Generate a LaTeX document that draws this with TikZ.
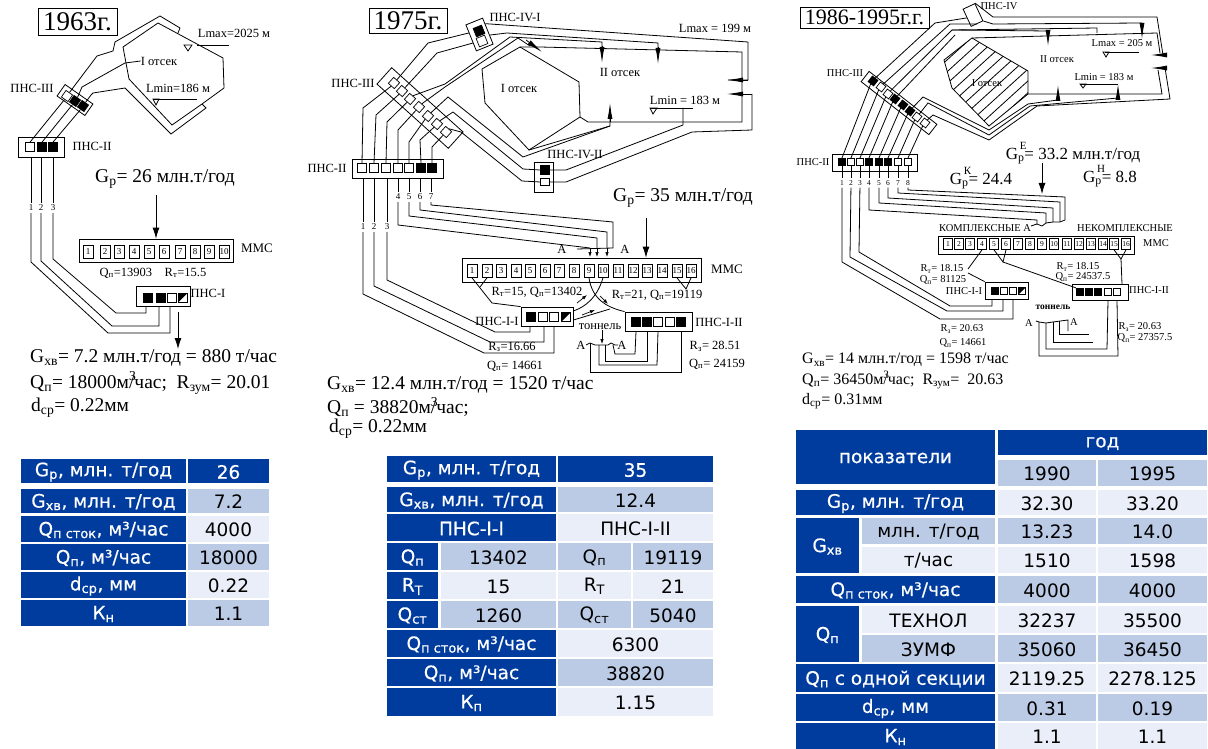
\documentclass[tikz,border=0pt]{standalone}
\usepackage{fontspec}
\setmainfont{Liberation Serif}
\newfontfamily\tabfam{DejaVu Sans}
\newfontfamily\tabbold[FakeBold=0.5]{DejaVu Sans}
\usetikzlibrary{
    arrows.meta,
    calc
}
\newcommand{\fs}[1]{\fontsize{#1}{#1}\selectfont}
\newcommand{\tabcell}[5]{\path[#4] (#2) rectangle (#3) node[midway, tabtext, #4] (#1) {#5};}
\definecolor{tabblue}{HTML}{003C9E}
\definecolor{tabmid}{HTML}{BCCBE5}
\definecolor{tablight}{HTML}{E9EEF8}
\tikzset{
    pipe/.style={
        line width=0.8pt,
        line join=miter
    },
    bigarrow/.style={
        -{Latex[length=11pt,width=7pt]},
        line width=0.8pt
    },
    smallarrow/.style={
        -{Latex[length=5pt,width=3.5pt]},
        line width=0.7pt
    },
    vane/.style={
        -{Latex[length=16pt,width=5pt]},
        line width=0.8pt
    },
    pumpcell/.style={
        draw=black,
        line width=0.7pt,
        inner sep=0pt,
        minimum size=9pt
    },
    pumpon/.style={
        pumpcell,
        fill=black
    },
    pumpoff/.style={
        pumpcell
    },
    pumphalf/.style={
        pumpcell,
        path picture={\fill (path picture bounding box.north west) -- (path picture bounding box.north east) -- (path picture bounding box.south west) -- cycle;}
    },
    stationbox/.style={
        rectangle,
        draw=black,
        line width=0.8pt,
        inner sep=0pt
    },
    numcell/.style={
        rectangle,
        draw=black,
        line width=0.7pt,
        inner sep=0pt,
        minimum width=10pt,
        minimum height=13pt,
        font=\fs{9}
    },
    trackno/.style={
        inner sep=2pt,
        font=\fs{9}
    },
    lbl/.style={
        inner sep=0pt,
        font=\fs{12.5}
    },
    lblsmall/.style={
        inner sep=0pt,
        font=\fs{10.5}
    },
    bigtext/.style={
        inner sep=0pt,
        anchor=west,
        font=\fs{19.5}
    },
    yearbox/.style={
        rectangle,
        draw=black,
        line width=0.8pt,
        inner sep=0pt,
        font=\fs{27}
    },
    tabtext/.style={
        inner sep=0pt,
        yshift=-1pt,
        align=center,
        font=\tabfam\fs{18.5}
    },
    cellblue/.style={
        fill=tabblue,
        text=white,
        font=\tabbold\fs{18.5}
    },
    cellmid/.style={
        fill=tabmid,
        text=black
    },
    celllight/.style={
        fill=tablight,
        text=black
    }
}
\begin{document}
\begin{tikzpicture}[x=1pt,y=-1pt]
\useasboundingbox (0,0) rectangle (1208,749);

% 1963
\node[yearbox, minimum width=79pt, minimum height=27pt] (yearA) at (77.5,22) {1963г.};
\node[stationbox, minimum width=34pt, minimum height=14pt, rotate=-35] (iiiA) at (75,100) {};
\foreach \n/\x/\y/\st in {1/67/96/pumpoff,2/75/101/pumpon,3/83/106/pumpon}
  \node[\st, minimum size=8pt, rotate=-35] (iiiA\n) at (\x,\y) {};
\node[stationbox, minimum width=46pt, minimum height=20pt] (iiA) at (41,147) {};
\foreach \n/\x/\st in {1/30/pumpoff,2/42/pumpon,3/53/pumpon}
  \node[\st] (iiA\n) at (\x,147) {};
\node[stationbox, minimum width=154pt, minimum height=23pt] (mmsA) at (156,250.5) {};
\foreach \n/\x in {1/88,2/105,3/119,4/134,5/149,6/164,7/180,8/195,9/209,10/224}
  \node[numcell] (mmsA\n) at (\x,252) {\n};
\node[stationbox, minimum width=54pt, minimum height=20pt] (iA) at (163,296) {};
\foreach \n/\x/\st in {1/148/pumpon,2/161/pumpon,3/172/pumpoff,4/183/pumphalf}
  \node[\st] (iA\n) at (\x,297.5) {};
\foreach \n/\x in {1/31,2/41,3/53}
  \node[trackno] (noA\n) at (\x,208) {\n};

\draw[pipe] (202,104) -- (224,88) -- (223,58) -- (158,23) -- (123,47) -- (129,79) -- (172,125) -- (202,104);
\draw[pipe] (iiiA1.north) -- (97,56) -- (113,51) -- (115,42) -- (160,16) -- (180,28) -- (178,33);
\draw[pipe] (iiiA2.north) -- (82,87) -- (125,63);
\draw[pipe] (iiiA3.north) -- (91,95) -- (93,93) -- (125,88) -- (171,134) -- (206,108) -- (202,104);
\draw[pipe] (iiA1.north) -- (iiiA1.south);
\draw[pipe] (iiA2.north) -- (iiiA2.south);
\draw[pipe] (iiA3.north) -- (iiiA3.south);
\draw[pipe] (31,157) -- (noA1);
\draw[pipe] (41,157) -- (noA2);
\draw[pipe] (53,157) -- (noA3);
\draw[pipe] (noA1) -- (31,262) -- (108,333) -- (170,333) -- (170,306);
\draw[pipe] (noA2) -- (41,261) -- (112,326) -- (159,326) -- (159,306);
\draw[pipe] (noA3) -- (53,259) -- (116,313) -- (146,313) -- (146,306);

\node[lbl] (lmaxA) at (234,33) {Lmax=2025 м};
\node[lbl] (lminA) at (178,88) {Lmin=186 м};
\node[lbl] (secA) at (159,61) {I отсек};
\node[lbl] (nameiiiA) at (32,88) {ПНС-III};
\node[lbl] (nameiiA) at (92,146) {ПНС-II};
\node[lbl] (nameiA) at (208,293) {ПНС-I};
\node[lbl, font=\fs{13}] (namemmsA) at (257,248) {ММС};
\node[lbl] (flowA) at (153,273) {Q\textsubscript{п}=13903\quad R\textsubscript{т}=15.5};
\draw[pipe] (197,45) -- (229,45);
\draw[pipe] (184,45) -- (192,45) -- (188,51) -- cycle;
\draw[pipe] (153,99) -- (197,99);
\draw[pipe] (153,99) -- (159,99) -- (156,105) -- cycle;
\draw[pipe] (125,63) -- (secA.west);
\node[inner sep=0pt, font=\fs{19.5}] (gpA) at (165,179) {G\textsubscript{р}= 26 млн.т/год};
\coordinate (gpAfrom) at (156,195);
\draw[bigarrow] (gpAfrom) -- (gpAfrom |- mmsA.north);
\coordinate (outAfrom) at (178,312);
\coordinate (outAto) at (178,349);
\draw[bigarrow] (outAfrom) -- (outAto);
\node[bigtext] (gxvA) at (30,358) {G\textsubscript{хв}= 7.2 млн.т/год = 880 т/час};
\node[bigtext] (qA) at (30,383) {Q\textsubscript{п}= 18000м\rlap{\textsuperscript{3}}/час;\ \ R\textsubscript{зум}= 20.01};
\node[bigtext] (dA) at (31,408) {d\textsubscript{ср}= 0.22мм};

% 1975
\node[yearbox, minimum width=78pt, minimum height=25pt] (yearB) at (408,20.5) {1975г.};
\node[stationbox, minimum width=18pt, minimum height=28pt, rotate=22] (ivaB) at (479.5,34.5) {};
\node[pumpon, rotate=22] (ivaB1) at (479,31) {};
\node[pumpoff, rotate=22] (ivaB2) at (482,41) {};
\node[stationbox, minimum width=96pt, minimum height=22pt, rotate=-42] (iiiB) at (420,108) {};
\foreach \n/\x/\y in {1/394/83,2/402/91,3/410/99,4/419/107,5/428/116,6/437/124,7/446/132}
  \node[pumpoff, minimum size=8pt, rotate=-42] (iiiB\n) at (\x,\y) {};
\node[stationbox, minimum width=91pt, minimum height=19pt] (iiB) at (397.5,168.5) {};
\foreach \n/\x/\st in {1/362/pumpoff,2/374/pumpoff,3/386/pumpoff,4/398/pumpoff,5/409/pumpoff,6/421/pumpon,7/432/pumpon}
  \node[\st] (iiB\n) at (\x,168) {};
\node[stationbox, minimum width=19pt, minimum height=30pt] (ivbB) at (543.5,177) {};
\node[pumpon] (ivbB1) at (545,170) {};
\node[pumpoff, minimum width=9pt, minimum height=7pt] (ivbB2) at (545,182) {};
\node[stationbox, minimum width=239pt, minimum height=24pt] (mmsB) at (581.5,270) {};
\foreach \n/\x in {1/472,2/487,3/501,4/516,5/530,6/545,7/559,8/574,9/589,10/603,11/618,12/633,13/647,14/662,15/677,16/691}
  \node[numcell] (mmsB\n) at (\x,271) {\n};
\node[stationbox, minimum width=52pt, minimum height=19pt] (iaB) at (547,316.5) {};
\foreach \n/\x/\st in {1/531/pumpon,2/543/pumpoff,3/554/pumpoff,4/566/pumphalf}
  \node[\st] (iaB\n) at (\x,317) {};
\node[stationbox, minimum width=67pt, minimum height=19pt] (ibB) at (658.5,321.5) {};
\foreach \n/\x/\st in {1/636/pumpon,2/647/pumpon,3/658/pumpoff,4/670/pumpoff,5/681/pumpon}
  \node[\st] (ibB\n) at (\x,322) {};
\foreach \n/\x in {1/363,2/374,3/387}
  \node[trackno] (noB\n) at (\x,227) {\n};
\foreach \n/\x in {4/398,5/409,6/420,7/431}
  \node[trackno] (noB\n) at (\x,197) {\n};

\draw[pipe] (520,47) -- (579,82) -- (580,117) -- (529,150) -- (485,103) -- (482,69) -- cycle;
\draw[pipe] (iiB1.north) -- (363,108) -- (iiiB1.south);
\draw[pipe] (iiB2.north) -- (376,115) -- (iiiB2.south);
\draw[pipe] (iiB3.north) -- (387,122) -- (iiiB3.south);
\draw[pipe] (iiB4.north) -- (398,130) -- (iiiB4.south);
\draw[pipe] (iiB5.north) -- (409,142) -- (iiiB5.south);
\draw[pipe] (iiB6.north) -- (420,140) -- (iiiB6.south);
\draw[pipe] (iiB7.north) -- (432,147) -- (iiiB7.south);
\draw[pipe] (iiiB1.north) -- (428,43) -- (ivaB.150);
\draw[pipe] (iiiB2.north) -- (437,53) -- (ivaB.210);
\draw[pipe] (ivaB.40) -- (748,42) -- (748,80) -- (728,80);
\draw[pipe] (ivaB.-25) -- (507,33) -- (658,43) -- (658,49);
\draw[vane] (658,47) -- (658,64);
\draw[pipe] (iiiB3.north) -- (445,84) -- (510,37) -- (602,42) -- (602,47);
\draw[vane] (602,46) -- (602,63);
\draw[pipe] (iiiB4.north) -- (445,87) -- (518,38) -- (530,46);
\draw[vane] (526,40) -- (542,52);
\draw[pipe] (520,47) -- (540,47) -- (742,52) -- (742,94);
\draw[vane] (748,80) -- (727,80);
\draw[pipe] (580,117) -- (588,122) -- (742,122) -- (742,94);
\draw[vane] (752,94) -- (727,94);
\draw[pipe] (iiiB5.north) -- (448,97) -- (523,157) -- (610,126) -- (610,115);
\draw[pipe] (529,150) -- (610,126);
\draw[vane] (610,122) -- (610,103);
\draw[pipe] (iiiB6.north) -- (453,112) -- (523,169) -- (ivbB1.west);
\draw[pipe] (iiiB7.north) -- (461,132) -- (522,181) -- (ivbB2.west);
\draw[pipe] (ivbB1.east) -- (566,170) -- (683,125) -- (683,108);
\draw[pipe] (ivbB2.east) -- (566,182) -- (692,132) -- (752,130) -- (752,94);

\draw[pipe] (363,178) -- (noB1);
\draw[pipe] (374,178) -- (noB2);
\draw[pipe] (387,178) -- (noB3);
\draw[pipe] (398,178) -- (noB4);
\draw[pipe] (409,178) -- (noB5);
\draw[pipe] (420,178) -- (noB6);
\draw[pipe] (431,178) -- (noB7);
\draw[pipe] (noB1) -- (363,294) -- (484,353) -- (554,353) -- (iaB.south -| 554,0);
\draw[pipe] (noB2) -- (374,286) -- (490,342) -- (544,342) -- (iaB.south -| 544,0);
\draw[pipe] (noB3) -- (387,280) -- (495,332) -- (530,332) -- (iaB.south -| 530,0);
\draw[pipe] (noB4) -- (398,225) -- (590,248);
\draw[pipe] (noB5) -- (409,216) -- (597,238) -- (597,248);
\draw[smallarrow] (597,248) -- (597,257);
\draw[smallarrow] (590,248) -- (590,257);
\draw[pipe] (noB6) -- (420,210) -- (607,232) -- (607,248);
\draw[smallarrow] (607,248) -- (607,257);
\draw[pipe] (noB7) -- (431,205) -- (613,222) -- (613,248) -- (577,249);
\draw[pipe] (mmsB1.south) -- (492,303) -- (iaB.north west);
\draw[pipe] (mmsB2.south) -- (480,287);
\draw[pipe] (mmsB10.south) .. controls (597,298) and (585,307) .. (iaB.east |- 0,311);
\draw[pipe] (mmsB9.south) .. controls (592,298) and (605,307) .. (ibB.north west);
\draw[pipe] (iaB.east |- 0,320) -- (610,309);
\draw[pipe] (mmsB15.south) -- (686,289) -- (mmsB16.south);
\draw[smallarrow] (577,303) -- (587,295);
\draw[smallarrow] (600,296) -- (608,304);
\draw[smallarrow] (582,315) -- (595,310);
\draw[pipe] (ibB1.south |- ibB.south) -- (635,354) -- (615,354) -- (613,345);
\draw[pipe] (ibB2.south |- ibB.south) -- (647,361) -- (605,361) -- (605,345);
\draw[pipe] (ibB3.south |- ibB.south) -- (657,365) -- (599,365) -- (599,345);
\draw[pipe] (ibB5.south |- ibB.south) -- (681,372) -- (590,372) -- (590,343);
\draw[pipe] (586,345) -- (590,343) -- (595,345) -- (608,345) -- (611,343) -- (615,345) -- (618,345);

\node[lbl] (secaB) at (519,88) {I отсек};
\node[lbl] (secbB) at (620,72) {II отсек};
\node[lbl] (lmaxB) at (715,28) {Lmax = 199 м};
\node[lbl] (lminB) at (685,100) {Lmin = 183 м};
\node[lbl] (nameivaB) at (515,17) {ПНС-IV-I};
\node[lbl] (nameivbB) at (575,154) {ПНС-IV-II};
\node[lbl] (nameiiiB) at (353,83) {ПНС-III};
\node[lbl] (nameiiB) at (327,168) {ПНС-II};
\node[lbl] (nameiaB) at (497,321) {ПНС-I-I};
\node[lbl] (nameibB) at (719,322) {ПНС-I-II};
\node[lbl, font=\fs{13}] (namemmsB) at (727,269) {ММС};
\node[lbl] (letaB) at (562,249) {A};
\node[lbl] (letbB) at (625,249) {A};
\node[lbl] (letcB) at (581,345) {A};
\node[lbl] (letdB) at (622,345) {A};
\node[lbl] (flowaB) at (537,292) {R\textsubscript{т}=15, Q\textsubscript{п}=13402};
\node[lbl] (flowbB) at (657,295) {R\textsubscript{т}=21, Q\textsubscript{п}=19119};
\node[lbl] (rtaB) at (512,347) {R\textsubscript{з}=16.66};
\node[lbl] (qaB) at (515,366) {Q\textsubscript{п}= 14661};
\node[lbl] (rtbB) at (715,346) {R\textsubscript{з}= 28.51};
\node[lbl] (qbB) at (717,364) {Q\textsubscript{п}= 24159};
\node[lbl] (tunB) at (600,327) {тоннель};
\coordinate (tunBto) at (602,344);
\draw[smallarrow] (tunB.south -| tunBto) -- (tunBto);
\draw[pipe] (650,108) -- (693,108);
\draw[pipe] (650,108) -- (657,108) -- (653,114) -- cycle;
\node[inner sep=0pt, font=\fs{19.5}] (gpB) at (683,198) {G\textsubscript{р}= 35 млн.т/год};
\coordinate (gpBfrom) at (646,218);
\draw[bigarrow] (gpBfrom) -- (gpBfrom |- mmsB.north);
\node[bigtext] (gxvB) at (327,385) {G\textsubscript{хв}= 12.4 млн.т/год = 1520 т/час};
\node[bigtext] (qB) at (327,407) {Q\textsubscript{п} = 38820м\rlap{\textsuperscript{3}}/час;};
\node[bigtext] (dB) at (329,429) {d\textsubscript{ср}= 0.22мм};

% 1986-1995
\node[yearbox, font=\fs{22}, minimum width=129pt, minimum height=21pt] (yearC) at (864.5,17.5) {1986-1995г.г.};
\node[stationbox, minimum width=13pt, minimum height=19pt, rotate=25] (ivC) at (973,15) {};
\node[stationbox, minimum width=86pt, minimum height=13pt, rotate=-38] (iiiC) at (899,103) {};
\foreach \n/\x/\y/\st in {1/873/81/pumpon,2/881/87/pumpoff,3/888/94/pumpoff,4/895/99/pumpon,5/903/105/pumpon,6/910/111/pumpon,7/917/117/pumpoff,8/925/123/pumpoff}
  \node[\st, minimum size=7pt, rotate=-38] (iiiC\n) at (\x,\y) {};
\node[stationbox, minimum width=85pt, minimum height=17pt] (iiC) at (874.5,162.5) {};
\foreach \n/\x/\st in {1/842/pumpon,2/851/pumpoff,3/860/pumpoff,4/869/pumpon,5/879/pumpon,6/888/pumpon,7/898/pumpoff,8/908/pumpoff}
  \node[\st, minimum size=7.5pt] (iiC\n) at (\x,162) {};
\node[stationbox, minimum width=196pt, minimum height=18pt] (mmsC) at (1036,245) {};
\foreach \n/\x in {1/948,2/959,3/970,4/982,5/994,6/1006,7/1018,8/1030,9/1042,10/1054,11/1067,12/1079,13/1091,14/1103,15/1114,16/1126}
  \node[numcell, minimum width=9pt, minimum height=11pt, font=\fs{7.5}] (mmsC\n) at (\x,244) {\n};
\node[stationbox, minimum width=43pt, minimum height=17pt] (iaC) at (1006.5,290.5) {};
\foreach \n/\x/\st in {1/995/pumpon,2/1004/pumpoff,3/1013/pumpoff,4/1022/pumphalf}
  \node[\st, minimum size=7.5pt] (iaC\n) at (\x,291) {};
\node[stationbox, minimum width=56pt, minimum height=16pt] (ibC) at (1100,292) {};
\foreach \n/\x/\st in {1/1080/pumpon,2/1089/pumpon,3/1098/pumpon,4/1108/pumpoff,5/1117/pumpoff}
  \node[\st, minimum size=7.5pt] (ibC\n) at (\x,292) {};
\foreach \n/\x in {1/842,2/851,3/860,4/869,5/879,6/888,7/898,8/908}
  \node[trackno, font=\fs{7.5}] (noC\n) at (\x,183) {\n};

\begin{scope}
\clip (972,38) -- (1028,71) -- (1028,94) -- (989,126) -- (952,88) -- (944,60) -- cycle;
\foreach \i in {0,...,9}
  \draw[pipe] ({870+13*\i},130) -- ++(110,-100);
\end{scope}
\draw[pipe] (972,38) -- (1028,71) -- (1028,94) -- (989,126) -- (952,88) -- (944,60) -- cycle;

\foreach \n in {1,...,8}
  \draw[pipe] (iiC\n.north) -- (iiiC\n.south);
\draw[pipe] (iiiC1.north) -- (935,23) -- (ivC.west);
\draw[pipe] (iiiC2.north) -- (950,24) -- (ivC.south);
\draw[pipe] (iiiC3.north) -- (952,30) -- (1097,28) -- (1097,33);
\draw[pipe] (952,30) -- (1048,31) -- (1048,36);
\draw[pipe] (iiiC4.north) -- (955,35);
\draw[pipe] (ivC.north east) -- (993,17) -- (1157,17) -- (1163,55);
\draw[pipe] (ivC.south east) -- (993,24) -- (1142,23) -- (1142,28);
\draw[vane] (1048,31) -- (1048,46);
\draw[vane] (1142,24) -- (1142,39);
\draw[pipe] (972,38) -- (1157,33) -- (1160,53);
\draw[pipe] (1028,94) -- (1162,94) -- (1158,70);
\draw[vane] (1163,55) -- (1151,55);
\draw[vane] (1165,68) -- (1151,68);
\draw[pipe] (iiiC6.north) -- (923,97) -- (989,130) -- (1028,104) -- (1058,100);
\draw[pipe] (iiiC7.north) -- (928,103) -- (989,135) -- (1030,106) -- (1118,98);
\draw[pipe] (iiiC8.north) -- (933,115) -- (989,140) -- (1037,106) -- (1170,99) -- (1165,68);
\draw[vane] (1058,100) -- (1058,85);
\draw[vane] (1118,98) -- (1118,84);

\foreach \n/\x in {1/842,2/851,3/860,4/869,5/879,6/888,7/898,8/908}
  \draw[pipe] (\x,166) -- (noC\n);
\draw[pipe] (noC1) -- (842,262) -- (940,319) -- (1013,319) -- (1013,299);
\draw[pipe] (noC2) -- (850,257) -- (947,311) -- (1003,311) -- (1003,299);
\draw[pipe] (noC3) -- (859,252) -- (950,306) -- (992,306) -- (992,299);
\draw[pipe] (noC4) -- (869,210) -- (1037,220) -- (1037,224);
\draw[pipe] (noC5) -- (879,203) -- (1046,213) -- (1046,223);
\draw[pipe] (noC6) -- (888,198) -- (1053,208) -- (1053,222);
\draw[pipe] (noC7) -- (898,193) -- (1060,202) -- (1060,222);
\draw[pipe] (noC8) -- (908,190) -- (1065,197) -- (1065,220);
\draw[pipe] (1031,226) -- (1037,224) -- (1042,226) -- (1046,223) -- (1053,222) -- (1060,222) -- (1065,220);
\draw[pipe] (mmsC4.south) -- (968,269);
\draw[pipe] (968,273) -- (iaC.north west);
\draw[pipe] (mmsC5.south) -- (1003,262) -- (mmsC6.south);
\draw[pipe] (1003,262) -- (ibC1.north west);
\draw[pipe] (mmsC15.south) -- (1121,259) -- (mmsC16.south);
\draw[pipe] (1121,259) -- (1122,284);
\draw[pipe] (ibC5.south |- ibC.south) -- (1118,356) -- (1039,356) -- (1039,322);
\draw[pipe] (ibC4.south |- ibC.south) -- (1107,349) -- (1046,349) -- (1046,323);
\draw[pipe] (1093,342) -- (1053,342) -- (1053,322);
\draw[pipe] (1089,334) -- (1059,334) -- (1059,321);
\draw[pipe] (1036,321) -- (1039,322) -- (1046,323) -- (1053,322) -- (1068,320) -- (1068,331);

\node[lblsmall] (secaC) at (987,83) {I отсек};
\node[lblsmall] (secbC) at (1057,59) {II отсек};
\node[lblsmall] (lmaxC) at (1122,43) {Lmax = 205 м};
\node[lblsmall] (lminC) at (1104,77) {Lmin = 183 м};
\node[lblsmall] (nameivC) at (999,6) {ПНС-IV};
\node[lblsmall] (nameiiiC) at (845,73) {ПНС-III};
\node[lblsmall] (nameiiC) at (813,162) {ПНС-II};
\node[lblsmall] (nameiaC) at (964,291) {ПНС-I-I};
\node[lblsmall] (nameibC) at (1149,290) {ПНС-I-II};
\node[lblsmall] (namemmsC) at (1156,243) {ММС};
\node[lblsmall] (kompC) at (985,228) {КОМПЛЕКСНЫЕ А};
\node[lblsmall] (nekompC) at (1125,228) {НЕКОМПЛЕКСНЫЕ};
\node[lblsmall] (rtaC) at (942,269) {R\textsubscript{т}= 18.15};
\node[lblsmall] (qaC) at (943,280) {Q\textsubscript{п}= 81125};
\node[lblsmall] (rtbC) at (1078,267) {R\textsubscript{т}= 18.15};
\node[lblsmall] (qbC) at (1083,277) {Q\textsubscript{п}= 24537.5};
\node[lblsmall] (rtcC) at (962,329) {R\textsubscript{з}= 20.63};
\node[lblsmall] (qcC) at (963,343) {Q\textsubscript{п}= 14661};
\node[lblsmall] (rtdC) at (1140,327) {R\textsubscript{з}= 20.63};
\node[lblsmall] (qdC) at (1145,338) {Q\textsubscript{п}= 27357.5};
\node[lblsmall, font=\fs{9.5}\bfseries] (tunC) at (1053,307) {тоннель};
\node[lblsmall] (letaC) at (1029,323) {A};
\node[lblsmall] (letbC) at (1074,322) {A};
\draw[pipe] (1105,52) -- (1139,52);
\draw[pipe] (1103,52) -- (1109,52) -- (1106,57) -- cycle;
\draw[pipe] (1080,84) -- (1118,84);
\draw[pipe] (1080,84) -- (1086,84) -- (1083,88) -- cycle;
\node[inner sep=0pt, font=\fs{17}] (gpeC) at (1073,153) {G\rlap{\raisebox{10pt}{\fs{11}\,Е}}\textsubscript{р}= 33.2 млн.т/год};
\node[inner sep=0pt, font=\fs{17}] (gpkC) at (981,178) {G\rlap{\raisebox{10pt}{\fs{11}\,К}}\textsubscript{р}= 24.4};
\node[inner sep=0pt, font=\fs{17}] (gphC) at (1110,176) {G\rlap{\raisebox{10pt}{\fs{11}\,Н}}\textsubscript{р}= 8.8};
\coordinate (gpCfrom) at (1042,163);
\coordinate (gpCto) at (1042,194);
\draw[bigarrow] (gpCfrom) -- (gpCto);
\node[bigtext, font=\fs{16}] (gxvC) at (802,360) {G\textsubscript{хв}= 14 млн.т/год = 1598 т/час};
\node[bigtext, font=\fs{16}] (qC) at (802,380) {Q\textsubscript{п}= 36450м\rlap{\textsuperscript{3}}/час;\ \ R\textsubscript{зум}=\ \ 20.63};
\node[bigtext, font=\fs{16}] (dC) at (802,401) {d\textsubscript{ср}= 0.31мм};

% table 1963
\foreach \r/\ya/\yb/\lab/\val/\st in {
  a/459/483/{G\textsubscript{р}, млн. т/год}/26/cellblue,
  b/489/513/{G\textsubscript{хв}, млн. т/год}/7.2/cellmid,
  c/516/542/{Q\textsubscript{п сток}, м³/час}/4000/celllight,
  d/544/570/{Q\textsubscript{п}, м³/час}/18000/cellmid,
  e/572/598/{d\textsubscript{ср}, мм}/0.22/celllight,
  f/600/626/{К\textsubscript{н}}/1.1/cellmid} {
  \tabcell{tabAl\r}{21,\ya}{186,\yb}{cellblue}{\lab}
  \tabcell{tabAv\r}{188,\ya}{269,\yb}{\st}{\val}
}

% table 1975
\foreach \r/\ya/\yb/\lab/\val/\st in {
  a/456/482/{G\textsubscript{р}, млн. т/год}/35/cellblue,
  b/487/512/{G\textsubscript{хв}, млн. т/год}/12.4/cellmid,
  c/514/541/{ПНС-I-I}/{ПНС-I-II}/celllight,
  g/630/657/{Q\textsubscript{п сток}, м³/час}/6300/celllight,
  h/659/686/{Q\textsubscript{п}, м³/час}/38820/cellmid,
  i/688/716/{К\textsubscript{п}}/1.15/celllight} {
  \tabcell{tabBl\r}{387,\ya}{556,\yb}{cellblue}{\lab}
  \tabcell{tabBv\r}{558,\ya}{713,\yb}{\st}{\val}
}
\foreach \r/\ya/\yb/\sym/\vala/\valb/\st in {
  d/543/570/{Q\textsubscript{п}}/13402/19119/cellmid,
  e/572/599/{R\textsubscript{Т}}/15/21/celllight,
  f/601/628/{Q\textsubscript{ст}}/1260/5040/cellmid} {
  \tabcell{tabBl\r}{387,\ya}{438,\yb}{cellblue}{\sym}
  \tabcell{tabBm\r}{441,\ya}{556,\yb}{\st}{\vala}
  \tabcell{tabBn\r}{558,\ya}{631,\yb}{\st}{\sym}
  \tabcell{tabBv\r}{633,\ya}{713,\yb}{\st}{\valb}
}

% table 1986-1995
\tabcell{tabChead}{796,430}{995,484}{cellblue}{показатели}
\tabcell{tabCyear}{998,430}{1207,455}{cellblue}{год}
\tabcell{tabCya}{998,460}{1096,486}{cellmid}{1990}
\tabcell{tabCyb}{1098,460}{1207,486}{cellmid}{1995}
\tabcell{tabCgx}{796,518}{859,573}{cellblue}{G\textsubscript{хв}}
\tabcell{tabCqp}{796,606}{859,662}{cellblue}{Q\textsubscript{п}}
\foreach \r/\ya/\yb/\lab/\vala/\valb/\st in {
  a/490/515/{G\textsubscript{р}, млн. т/год}/32.30/33.20/celllight,
  d/576/603/{Q\textsubscript{п сток}, м³/час}/4000/4000/cellmid,
  g/664/692/{Q\textsubscript{п} с одной секции}/2119.25/2278.125/celllight,
  h/694/721/{d\textsubscript{ср}, мм}/0.31/0.19/cellmid,
  i/723/749/{К\textsubscript{н}}/1.1/1.1/celllight} {
  \tabcell{tabCl\r}{796,\ya}{995,\yb}{cellblue}{\lab}
  \tabcell{tabCa\r}{998,\ya}{1096,\yb}{\st}{\vala}
  \tabcell{tabCb\r}{1098,\ya}{1207,\yb}{\st}{\valb}
}
\foreach \r/\ya/\yb/\lab/\vala/\valb/\st in {
  b/518/544/{млн. т/год}/13.23/14.0/cellmid,
  c/547/573/{т/час}/1510/1598/celllight,
  e/606/633/{ТЕХНОЛ}/32237/35500/celllight,
  f/635/662/{ЗУМФ}/35060/36450/cellmid} {
  \tabcell{tabCl\r}{862,\ya}{995,\yb}{\st}{\lab}
  \tabcell{tabCa\r}{998,\ya}{1096,\yb}{\st}{\vala}
  \tabcell{tabCb\r}{1098,\ya}{1207,\yb}{\st}{\valb}
}
\end{tikzpicture}
\end{document}
